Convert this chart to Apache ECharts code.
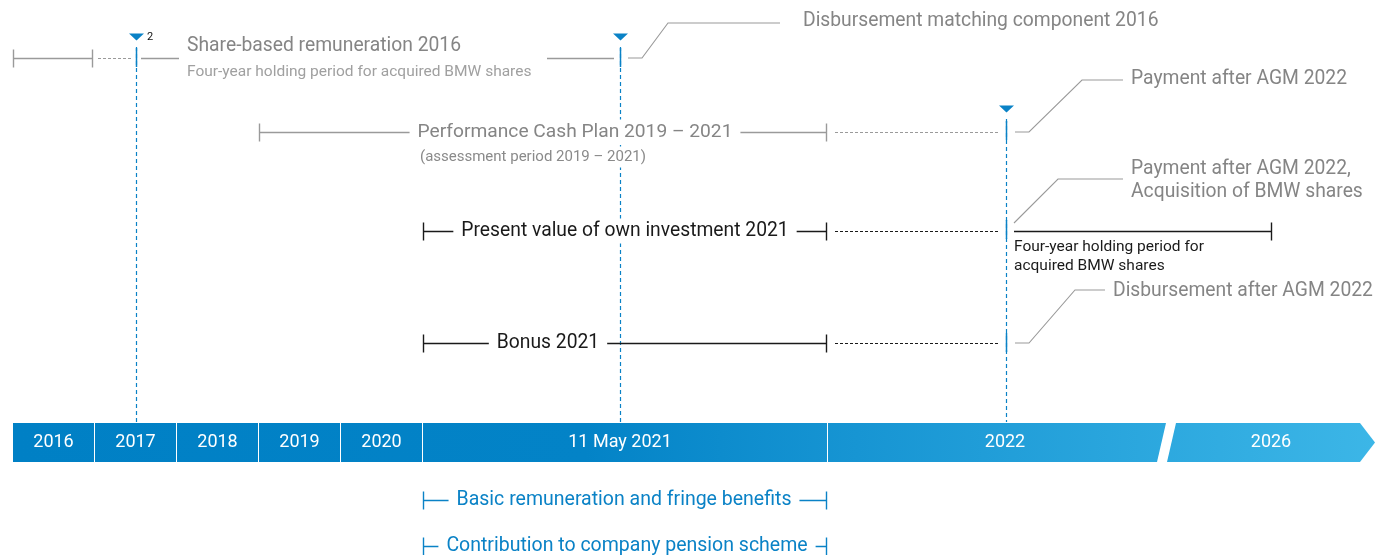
<!DOCTYPE html>
<html>
<head>
<meta charset="utf-8">
<script src="https://cdn.jsdelivr.net/npm/echarts@6/dist/echarts.min.js"></script>
<style>
  html, body { margin: 0; padding: 0; background: #fff; }
  #chart { width: 1375px; height: 555px; }
</style>
</head>
<body>
<div id="chart"></div>
<script>
// timeline blocks along the bottom bar (x = timeline position)
const periodLabels = ['2016', '2017', '2018', '2019', '2020', '11 May 2021', '2022', '2026'];
const periodStart  = [13, 95, 177, 259, 341, 423, 828, 1176];
const periodEnd    = [94, 176, 258, 340, 422, 827, 1166, 1360];
const periodLabelX = [53.5, 135.5, 217.5, 299.5, 381.5, 620, 1005, 1271];

// key dates: grant 2017, 11 May 2021, AGM 2022 (x, row where the triangle sits)
const keyDateX   = [136, 620, 1006];
const keyDateTop = [37, 37, 109];
// rows crossed by each key date (solid blue piece)
const keyDateHits = [[136, 58], [620, 58], [1006, 131], [1006, 230], [1006, 343]];

// row levels
const rowShare = 58, rowCash = 132, rowOwn = 231, rowBonus = 343, rowBasic = 500, rowPension = 546;

// spans: [from, to, row, capStart, capEnd]
const greySpans  = [[13, 93, rowShare, 1, 1], [141, 179, rowShare, 0, 0], [547, 614, rowShare, 0, 0], [259, 827, rowCash, 1, 1]];
const greyDashed = [[98, 131, rowShare], [835, 1000, rowCash]];
const blackSpans = [[423, 827, rowOwn, 1, 1], [1014, 1272, rowOwn, 0, 1], [423, 827, rowBonus, 1, 1]];
const blackDashed = [[835, 1000, rowOwn], [835, 1000, rowBonus]];
const blueSpans  = [[423, 827, rowBasic, 1, 1], [423, 827, rowPension, 1, 1]];

// callout leaders
const leaders = [
  [[628, 58], [642, 58], [668, 23], [780, 23]],
  [[1015, 132], [1029, 132], [1082, 80], [1123, 80]],
  [[1014, 223], [1058, 179], [1123, 179]],
  [[1015, 343], [1029, 343], [1075, 290], [1105, 290]]
];

// labels: [x, row, text, kind]
const labels = [
  [187, 46, 'Share-based remuneration 2016', 'grey'],
  [187, 72, 'Four-year holding period for acquired BMW shares', 'greySub'],
  [147, 37, '2', 'sup'],
  [803, 21, 'Disbursement matching component 2016', 'callout'],
  [1131, 79, 'Payment after AGM 2022', 'callout'],
  [575, rowCash, 'Performance Cash Plan 2019 – 2021', 'greyMid'],
  [412, 157, '(assessment period 2019 – 2021)', 'greyNote'],
  [1131, 169, 'Payment after AGM 2022,', 'callout'],
  [1131, 192, 'Acquisition of BMW shares', 'callout'],
  [625, rowOwn, 'Present value of own investment 2021', 'blackMid'],
  [1014, 247, 'Four-year holding period for', 'blackSmall'],
  [1014, 266, 'acquired BMW shares', 'blackSmall'],
  [1113, 291, 'Disbursement after AGM 2022', 'callout'],
  [548, rowBonus, 'Bonus 2021', 'blackMid'],
  [624, rowBasic, 'Basic remuneration and fringe benefits', 'blueMid'],
  [627, rowPension, 'Contribution to company pension scheme', 'blueMid']
];

const FONT = 'Roboto, "Noto Sans", sans-serif';
const GREY = '#9a9a9a';
const BLUE = '#0a82c6';
const BLACK = '#1a1a1a';

const textStyles = {
  grey:       { fill: '#858585', size: 19.3, align: 'left', bg: false },
  greySub:    { fill: '#a0a0a0', size: 15.5, align: 'left', bg: false },
  sup:        { fill: '#111', size: 11, align: 'left', bg: false },
  callout:    { fill: '#858585', size: 19.3, align: 'left', bg: false },
  greyMid:    { fill: '#858585', size: 19.2, align: 'center', bg: true },
  greyNote:   { fill: '#8a8a8a', size: 15, align: 'left', bg: true },
  blackMid:   { fill: BLACK, size: 19.3, align: 'center', bg: true },
  blackSmall: { fill: BLACK, size: 15.5, align: 'left', bg: false },
  blueMid:    { fill: BLUE, size: 19.5, align: 'center', bg: true }
};

const chart = echarts.init(document.getElementById('chart'));

function spanSeries(list, color, dashed, z) {
  return {
    type: 'custom',
    z: z,
    data: list.map(function (d) { return [d[0], d[1], d[2]]; }),
    renderItem: function (params, api) {
      const d = list[params.dataIndex];
      const a = api.coord([d[0], d[2]]);
      const b = api.coord([d[1], d[2]]);
      const y = Math.round(a[1]) + 0.5;
      const kids = [{
        type: 'line',
        shape: { x1: a[0], y1: y, x2: b[0], y2: y },
        style: { stroke: color, lineWidth: dashed ? 1.2 : 1.4, lineDash: dashed ? [3, 2] : null }
      }];
      if (d[3]) kids.push({ type: 'line', shape: { x1: Math.round(a[0]) + 0.5, y1: y - 9, x2: Math.round(a[0]) + 0.5, y2: y + 9 }, style: { stroke: color, lineWidth: 1.4 } });
      if (d[4]) kids.push({ type: 'line', shape: { x1: Math.round(b[0]) - 0.5, y1: y - 9, x2: Math.round(b[0]) - 0.5, y2: y + 9 }, style: { stroke: color, lineWidth: 1.4 } });
      return { type: 'group', children: kids };
    }
  };
}

const option = {
  animation: false,
  grid: { left: 0, right: 0, top: 0, bottom: 0 },
  xAxis: { type: 'value', min: 0, max: 1375, show: false },
  yAxis: { type: 'value', min: 0, max: 555, inverse: true, show: false },
  series: [
    // dashed key-date markers down to the bar
    {
      type: 'custom',
      z: 1,
      data: keyDateX.map(function (x, i) { return [x, keyDateTop[i]]; }),
      renderItem: function (params, api) {
        const i = params.dataIndex;
        const top = api.coord([keyDateX[i], keyDateTop[i]]);
        const bot = api.coord([keyDateX[i], 422]);
        const x = Math.round(top[0]) + 0.5;
        return {
          type: 'group',
          children: [
            { type: 'line', shape: { x1: x, y1: top[1] + 10, x2: x, y2: bot[1] }, style: { stroke: BLUE, lineWidth: 1.2, lineDash: [4, 3] } },
            { type: 'polygon', shape: { points: [[x - 7.5, top[1] - 3.5], [x + 7.5, top[1] - 3.5], [x, top[1] + 3.5]] }, style: { fill: BLUE } }
          ]
        };
      }
    },
    spanSeries(greySpans, GREY, false, 2),
    spanSeries(greyDashed, GREY, true, 2),
    spanSeries(blackSpans, BLACK, false, 2),
    spanSeries(blackDashed, BLACK, true, 2),
    spanSeries(blueSpans, BLUE, false, 2),
    // callout leaders
    {
      type: 'custom',
      z: 2,
      data: leaders.map(function (l) { return l[0]; }),
      renderItem: function (params, api) {
        const pts = leaders[params.dataIndex].map(function (p) { return api.coord(p); });
        return { type: 'polyline', shape: { points: pts }, style: { stroke: GREY, lineWidth: 1.1, fill: null } };
      }
    },
    // solid blue pieces where key dates cross a row
    {
      type: 'custom',
      z: 4,
      data: keyDateHits,
      renderItem: function (params, api) {
        const p = api.coord(keyDateHits[params.dataIndex]);
        const x = Math.round(p[0]) + 0.5;
        return { type: 'line', shape: { x1: x, y1: p[1] - 10, x2: x, y2: p[1] + 9 }, style: { stroke: BLUE, lineWidth: 1.5 } };
      }
    },
    // labels
    {
      type: 'custom',
      z: 3,
      data: labels.map(function (l) { return [l[0], l[1]]; }),
      renderItem: function (params, api) {
        const l = labels[params.dataIndex];
        const s = textStyles[l[3]];
        const p = api.coord([l[0], l[1]]);
        return {
          type: 'text',
          x: p[0], y: p[1],
          style: {
            text: l[2],
            fill: s.fill,
            font: s.size + 'px ' + FONT,
            align: s.align,
            verticalAlign: 'middle',
            backgroundColor: s.bg ? '#fff' : null,
            padding: s.bg ? [3, 8, 3, 8] : 0
          }
        };
      }
    },
    // timeline bar
    {
      type: 'custom',
      z: 5,
      data: periodLabels.map(function (t, i) { return [periodStart[i], periodEnd[i]]; }),
      renderItem: function (params, api) {
        const i = params.dataIndex;
        const last = periodLabels.length - 1;
        const a = api.coord([periodStart[i], 423]);
        const b = api.coord([periodEnd[i], 462]);
        const g0 = api.coord([periodStart[0], 0])[0];
        const g1 = api.coord([1375, 0])[0];
        let pts;
        if (i === last - 1) {
          pts = [[a[0], a[1]], [b[0], a[1]], [b[0] - 9, b[1]], [a[0], b[1]]];
        } else if (i === last) {
          pts = [[a[0], a[1]], [b[0], a[1]], [g1, (a[1] + b[1]) / 2], [b[0], b[1]], [a[0] - 9, b[1]]];
        } else {
          pts = [[a[0], a[1]], [b[0], a[1]], [b[0], b[1]], [a[0], b[1]]];
        }
        const c = api.coord([periodLabelX[i], 442.5]);
        return {
          type: 'group',
          children: [
            {
              type: 'polygon',
              shape: { points: pts },
              style: {
                fill: {
                  type: 'linear', x: g0, y: 0, x2: g1, y2: 0, global: true,
                  colorStops: [
                    { offset: 0, color: '#0080c5' },
                    { offset: 0.42, color: '#0383c7' },
                    { offset: 0.62, color: '#1795d3' },
                    { offset: 1, color: '#3cb6e7' }
                  ]
                }
              }
            },
            {
              type: 'text',
              x: c[0], y: c[1],
              style: { text: periodLabels[i], fill: '#fff', font: '18px ' + FONT, align: 'center', verticalAlign: 'middle' }
            }
          ]
        };
      }
    }
  ]
};

chart.setOption(option);
</script>
</body>
</html>
